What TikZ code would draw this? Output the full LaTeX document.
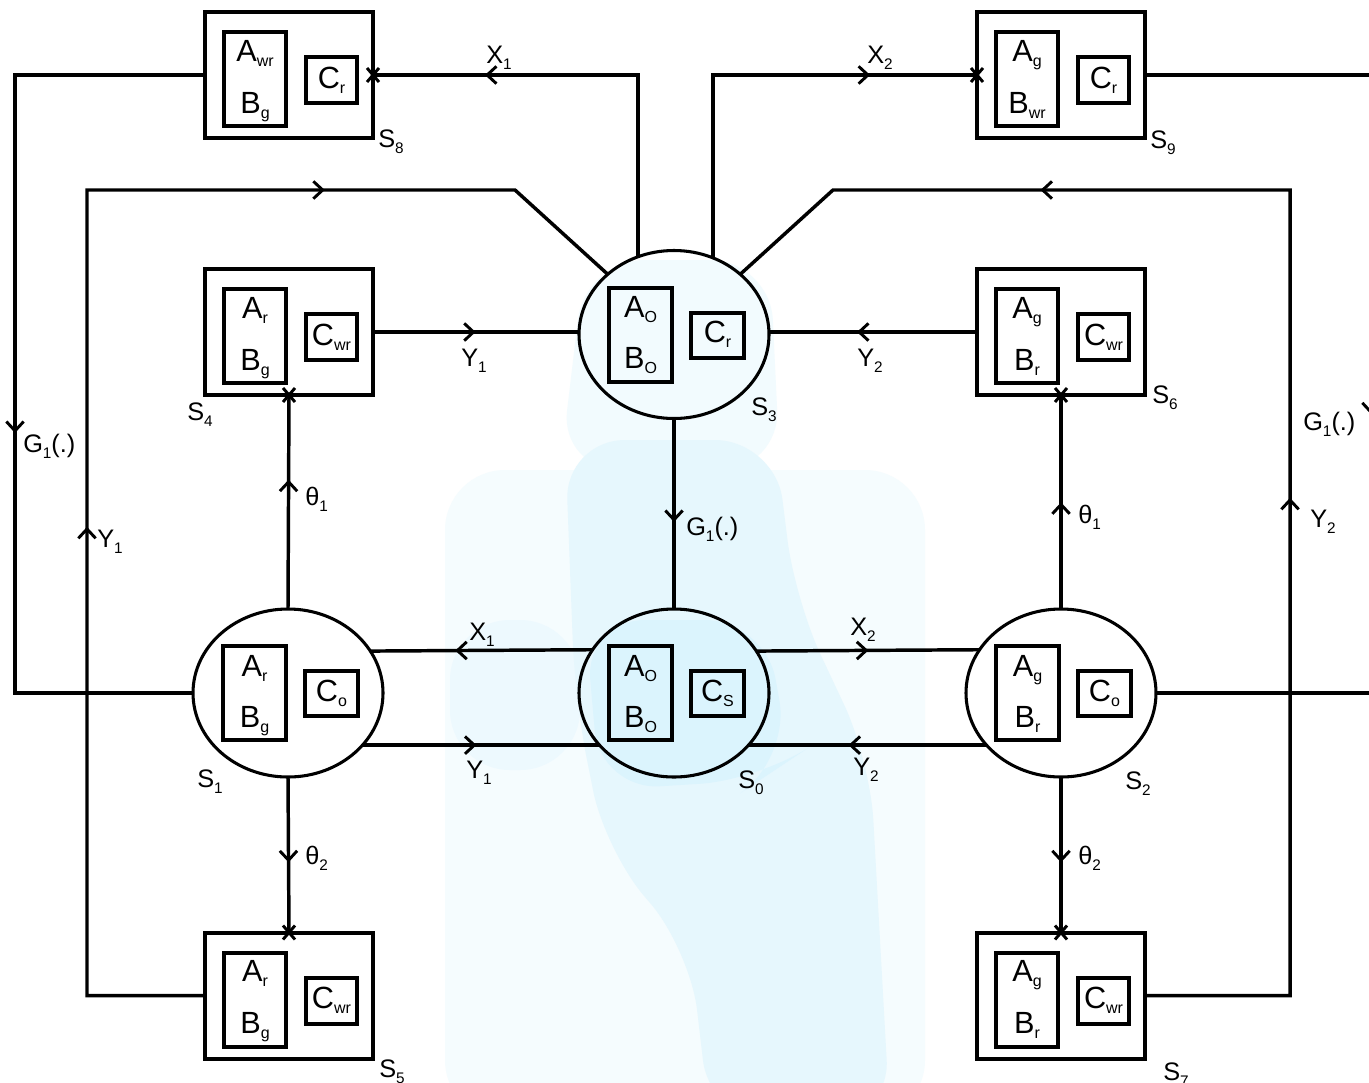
\documentclass[tikz,border=0pt]{standalone}
\usepackage{fontspec}
\setmainfont{Liberation Sans}
\usetikzlibrary{arrows.meta,decorations.markings,shapes.geometric}

\newcommand\sbx[1]{\raisebox{-4pt}{\fontsize{12}{12}\selectfont #1}}
\newcommand\sbl[1]{\raisebox{-4.5pt}{\fontsize{11.5}{11.5}\selectfont #1}}

\tikzset{
 conn/.style={line width=2.6pt},
 arrowat/.style={postaction={decorate,decoration={markings,mark=at position #1 with {\arrow{Straight Barb[length=7pt,width=13pt,line width=2.2pt]}}}}},
 stbox/.style={draw,line width=3pt,minimum width=126pt,minimum height=94.5pt,inner sep=0pt,outer sep=0pt},
 stell/.style={draw,ellipse,line width=2.3pt,minimum width=142.5pt,minimum height=126pt,inner sep=0pt,outer sep=0pt},
 inbox/.style={line width=3pt},
 boxtxt/.style={anchor=base,inner sep=0pt,font=\fontsize{23}{23}\selectfont},
 lbl/.style={anchor=base west,inner sep=0pt,font=\fontsize{19}{19}\selectfont},
 crossln/.style={line width=2.2pt},
 wm/.style={rounded corners=45pt},
}

\newcommand\bxc[4]{%
 \draw[inbox] ([shift={(-65,-43)}]#1.center) rectangle ([shift={(-3,51)}]#1.center);
 \draw[inbox] ([shift={(17,-18)}]#1.center) rectangle ([shift={(68,28)}]#1.center);
 \node[boxtxt] (#1a) at ([shift={(-34,-14)}]#1.center) {#2};
 \node[boxtxt] (#1b) at ([shift={(-34,38)}]#1.center) {#3};
 \node[boxtxt] (#1c) at ([shift={(42.5,13)}]#1.center) {#4};
}
\newcommand\elc[4]{%
 \draw[inbox] ([shift={(-65,-47)}]#1.center) rectangle ([shift={(-2,47)}]#1.center);
 \draw[inbox] ([shift={(17,-22)}]#1.center) rectangle ([shift={(70,23)}]#1.center);
 \node[boxtxt] (#1a) at ([shift={(-33.5,-17)}]#1.center) {#2};
 \node[boxtxt] (#1b) at ([shift={(-33.5,34)}]#1.center) {#3};
 \node[boxtxt] (#1c) at ([shift={(43.5,8)}]#1.center) {#4};
}
\newcommand\crs[1]{%
 \draw[crossln] ([shift={(-6,-7)}]#1) -- ([shift={(6,7)}]#1) ([shift={(-6,7)}]#1) -- ([shift={(6,-7)}]#1);
}

\begin{document}
\begin{tikzpicture}[x=0.75pt,y=-0.75pt]
\clip (0,0) rectangle (1369,1082);
\fill[white] (0,0) rectangle (1369,1082);
% faint watermark
\fill[cyan!4,wm] (445,470) -- (925,470) -- (925,1120) -- (445,1120) -- cycle;
\fill[cyan!5,wm] (585,260) -- (770,260) -- (780,470) -- (560,470) -- cycle;
\fill[cyan!7,wm] (450,620) -- (580,620) -- (580,770) -- (450,770) -- cycle;
\fill[cyan!10,wm] (565,440) -- (775,440) -- (795,600) -- (870,760) -- (890,1120) -- (710,1120) -- (690,950) -- (605,850) -- (575,700) -- cycle;
\fill[cyan!14,wm] (585,620) -- (765,620) -- (790,760) -- (760,780) -- (600,790) -- cycle;

% states
\node[stbox] (S8) at (289,75) {};
\node[stbox] (S9) at (1061,75) {};
\node[stbox] (S4) at (289,332) {};
\node[stbox] (S6) at (1061,332) {};
\node[stbox] (S5) at (289,995.5) {};
\node[stbox] (S7) at (1061,995.5) {};
\node[stell] (S3) at (674,334.5) {};
\node[stell] (S0) at (674,693) {};
\node[stell] (S1) at (288,693) {};
\node[stell] (S2) at (1061,693) {};

\bxc{S8}{A\sbx{wr}}{B\sbx{g}}{C\sbx{r}}
\bxc{S9}{A\sbx{g}}{B\sbx{wr}}{C\sbx{r}}
\bxc{S4}{A\sbx{r}}{B\sbx{g}}{C\sbx{wr}}
\bxc{S6}{A\sbx{g}}{B\sbx{r}}{C\sbx{wr}}
\bxc{S5}{A\sbx{r}}{B\sbx{g}}{C\sbx{wr}}
\bxc{S7}{A\sbx{g}}{B\sbx{r}}{C\sbx{wr}}
\elc{S3}{A\sbx{O}}{B\sbx{O}}{C\sbx{r}}
\elc{S0}{A\sbx{O}}{B\sbx{O}}{C\sbx{S}}
\elc{S1}{A\sbx{r}}{B\sbx{g}}{C\sbx{o}}
\elc{S2}{A\sbx{g}}{B\sbx{r}}{C\sbx{o}}

% corner coordinates
\coordinate (yl) at (87,190);
\coordinate (yc) at (515,190);
\coordinate (yr) at (1290,190);
\coordinate (yd) at (833,190);
\coordinate (gl) at (15,693);
\coordinate (gr) at (1371,693);

% connectors
\draw[conn,arrowat=251pt] (S3.115.55) |- (S8.east);
\draw[conn,arrowat=255pt] (S3.63.7) |- (S9.west);
\draw[conn,arrowat=440pt,arrowat=871pt] (S5.west) -| (yl) -- (yc) -- (S3);
\draw[conn,arrowat=482pt,arrowat=900pt] (S7.east) -| (yr) -- (yd) -- (S3);
\draw[conn,arrowat=411pt] (S8.west) -| (gl) -- (S1.west);
\draw[conn,arrowat=424pt] (S9.east) -| (gr) -- (S2.east);
\draw[conn,arrowat=77.6pt] (S3.south) -- (S0.north);
\draw[conn,arrowat=77pt] (S4.east) -- (S4.east -| S3.west);
\draw[conn,arrowat=90pt] (S6.west) -- (S6.west -| S3.east);
\draw[conn,arrowat=97pt] (S1.north) -- (S4.south);
\draw[conn,arrowat=80pt] (S2.north) -- (S6.south);
\draw[conn,arrowat=64pt] (S1.south) -- (S5.north);
\draw[conn,arrowat=64pt] (S2.south) -- (S7.north);
\draw[conn,arrowat=103pt] (S0.152.2) -- (S1.27.8);
\draw[conn,arrowat=85.5pt] (S1.-35.7) -- (S0.215.7);
\draw[conn,arrowat=84pt] (S0.27.8) -- (S2.152.2);
\draw[conn,arrowat=103.5pt] (S2.215.7) -- (S0.-35.7);

% crosses
\crs{S8.east}
\crs{S9.west}
\crs{S4.south}
\crs{S6.south}
\crs{S5.north}
\crs{S7.north}

% labels
\node[lbl] (lx1) at (486,63) {X\sbl{1}};
\node[lbl] (lx2) at (867,63) {X\sbl{2}};
\node[lbl] (l8) at (378,147) {S\sbl{8}};
\node[lbl] (l9) at (1150,148) {S\sbl{9}};
\node[lbl] (ly1a) at (461,366) {Y\sbl{1}};
\node[lbl] (l4) at (187,420) {S\sbl{4}};
\node[lbl] (l3) at (751,415) {S\sbl{3}};
\node[lbl] (ly2a) at (857,366) {Y\sbl{2}};
\node[lbl] (l6) at (1152,403) {S\sbl{6}};
\node[lbl] (lg1) at (23,452) {G\sbl{1}(.)};
\node[lbl] (ly1b) at (97,547) {Y\sbl{1}};
\node[lbl] (lg2) at (1303,430) {G\sbl{1}(.)};
\node[lbl] (ly2b) at (1310,527) {Y\sbl{2}};
\node[lbl] (lt1a) at (305,505) {θ\sbl{1}};
\node[lbl] (lt1b) at (1078,523) {θ\sbl{1}};
\node[lbl] (lg3) at (686,535) {G\sbl{1}(.)};
\node[lbl] (lx1b) at (469,640) {X\sbl{1}};
\node[lbl] (lx2b) at (850,635) {X\sbl{2}};
\node[lbl] (ly1c) at (466,778) {Y\sbl{1}};
\node[lbl] (ly2c) at (853,775) {Y\sbl{2}};
\node[lbl] (l0) at (738,788) {S\sbl{0}};
\node[lbl] (l1) at (197,787) {S\sbl{1}};
\node[lbl] (l2) at (1125,789) {S\sbl{2}};
\node[lbl] (lt2a) at (305,864) {θ\sbl{2}};
\node[lbl] (lt2b) at (1078,864) {θ\sbl{2}};
\node[lbl] (l5) at (379,1077) {S\sbl{5}};
\node[lbl] (l7) at (1163,1080) {S\sbl{7}};
\end{tikzpicture}
\end{document}
